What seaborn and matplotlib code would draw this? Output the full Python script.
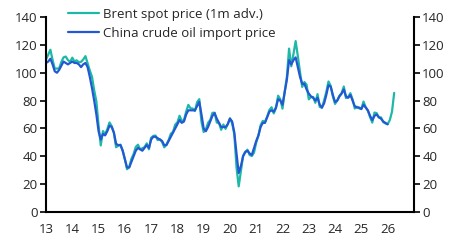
import numpy as np
import pandas as pd
import matplotlib
matplotlib.use("Agg")
import matplotlib.pyplot as plt
import seaborn as sns

# Brent spot price (1m advanced), monthly from Jan 2013 (plotted months)
brent = [
    109.5, 112.9, 116.5, 109.2, 102.9, 103.0, 103.1, 107.7, 111.0, 111.6, 109.1, 107.8,  # 2013
    110.8, 108.1, 108.9, 107.5, 107.8, 109.5, 111.9, 106.8, 101.6, 97.1, 87.4, 79.4,     # 2014
    62.3, 47.8, 58.1, 55.9, 59.5, 64.3, 61.7, 56.8, 46.5, 47.6, 48.4, 44.3,              # 2015
    38.0, 30.7, 32.2, 38.2, 41.6, 46.7, 48.3, 44.9, 45.8, 46.6, 49.3, 45.0,              # 2016
    53.3, 54.6, 54.9, 51.6, 52.3, 50.3, 46.4, 48.5, 51.7, 56.2, 57.5, 62.7,              # 2017
    64.4, 69.1, 65.3, 66.0, 72.1, 76.9, 74.4, 74.3, 72.5, 78.9, 81.0, 64.8,              # 2018
    57.4, 59.4, 64.0, 66.1, 71.2, 71.3, 64.2, 63.9, 59.0, 62.8, 59.7, 63.2,              # 2019
    67.3, 63.7, 55.7, 32.0, 18.4, 29.4, 40.3, 43.2, 44.7, 40.9, 40.2, 42.7,              # 2020
    49.9, 54.8, 62.3, 65.4, 64.8, 68.5, 73.2, 75.2, 70.8, 74.5, 83.5, 80.9,              # 2021
    74.2, 86.5, 97.1, 117.3, 104.6, 113.3, 122.7, 111.9, 100.5, 89.8, 93.3, 91.4,        # 2022
    80.9, 82.5, 82.6, 78.4, 84.6, 75.5, 74.8, 80.1, 86.2, 93.7, 90.6, 82.9,              # 2023
    77.6, 80.1, 83.5, 85.4, 90.1, 81.8, 82.6, 85.3, 80.9, 74.3, 75.6, 74.4,              # 2024
    73.9, 79.3, 75.2, 72.6, 68.1, 64.2, 71.4, 71.0, 67.9, 67.9, 64.5, 63.6,              # 2025
    63.0, 66.0, 72.0, 85.5,                                                              # 2026
]

# China crude oil import price, monthly from Jan 2013
china = [
    107, 108, 110, 106, 101, 100, 102, 105, 108, 107, 106, 107,   # 2013
    108, 107, 107, 106, 104, 106, 107, 104, 97, 89, 80, 70,       # 2014
    58, 52, 56, 55, 58, 62, 61, 57, 49, 48, 48, 44,               # 2015
    38, 32, 32, 36, 40, 44, 46, 45, 44, 46, 48, 46,               # 2016
    52, 54, 54, 53, 52, 51, 48, 48, 51, 54, 57, 60,               # 2017
    63, 66, 64, 65, 70, 73, 73, 73, 73, 76, 79, 70,               # 2018
    60, 58, 61, 65, 69, 71, 67, 64, 61, 61, 61, 63,               # 2019
    67, 65, 57, 42, 28, 33, 40, 43, 44, 42, 41, 46,               # 2020
    51, 55, 61, 64, 64, 68, 72, 73, 72, 75, 81, 80,               # 2021
    77, 86, 95, 109, 106, 109, 111, 104, 97, 92, 92, 88,          # 2022
    85, 83, 82, 80, 82, 77, 75, 78, 84, 91, 90, 84,               # 2023
    79, 80, 83, 85, 88, 83, 82, 84, 80, 76, 75, 75,               # 2024
    74, 77, 75, 73, 69, 66, 69, 70, 68, 67, 65, 64,               # 2025
    63,                                                           # 2026
]

series_names = ["Brent spot price (1m adv.)", "China crude oil import price"]
year_ticks = list(range(2013, 2028))
year_labels = [str(y)[2:] for y in range(2013, 2027)] + [""]
y_ticks = [0, 20, 40, 60, 80, 100, 120, 140]

t_brent = 2013 + np.arange(len(brent)) / 12
t_china = 2013 + np.arange(len(china)) / 12
df = pd.concat([
    pd.DataFrame({"t": t_brent, "v": brent, "s": series_names[0]}),
    pd.DataFrame({"t": t_china, "v": china, "s": series_names[1]}),
])

sns.set_style("white")
plt.rcParams['font.family'] = ['Open Sans', 'DejaVu Sans']

fig = plt.figure(figsize=(4.61, 2.5), dpi=100)
ax = fig.add_axes([0.0998, 0.152, 0.798, 0.780])

palette = {series_names[0]: "#1DB8A6", series_names[1]: "#2358D4"}
sns.lineplot(data=df, x="t", y="v", hue="s", palette=palette, ax=ax,
             linewidth=1.6, legend=False, estimator=None)

ax.set_xlim(2013, 2027)
ax.set_ylim(0, 140)
ax.set_xticks(year_ticks)
ax.set_xticklabels(year_labels)
ax.set_yticks(y_ticks)
ax.set_xlabel("")
ax.set_ylabel("")

ax2 = ax.twinx()
ax2.set_ylim(0, 140)
ax2.set_yticks(y_ticks)

for a in (ax, ax2):
    a.spines['top'].set_visible(False)
    for s in ('left', 'right', 'bottom'):
        a.spines[s].set_linewidth(1.5)
        a.spines[s].set_color('black')
    a.tick_params(axis='both', which='major', direction='out', length=4,
                  width=1.2, color='black', labelsize=9.5, pad=2)
ax.spines['right'].set_visible(False)
ax2.spines['left'].set_visible(False)
ax2.spines['bottom'].set_visible(False)
ax.tick_params(axis='x', pad=4)

from matplotlib.lines import Line2D
handles = [Line2D([0], [0], color=palette[n], lw=1.6) for n in series_names]
fig.legend(handles, series_names, loc='upper left', bbox_to_anchor=(0.135, 0.99),
           frameon=False, fontsize=9.5, handlelength=2.4, handletextpad=0.3,
           labelspacing=0.45, borderaxespad=0)

fig.savefig("out.png", dpi=100)
